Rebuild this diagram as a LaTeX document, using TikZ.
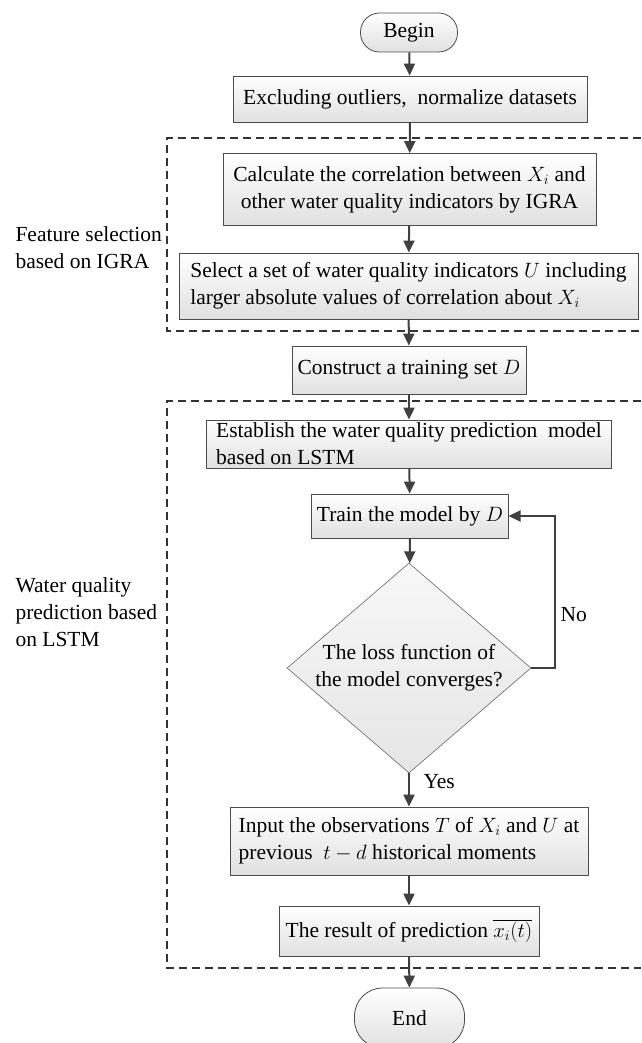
\documentclass[tikz,border=0pt]{standalone}
\usepackage{fontspec}
\setmainfont{Liberation Serif}
\usetikzlibrary{arrows.meta,shapes.geometric}

\begin{document}
\begin{tikzpicture}[x=1pt,y=-1pt,
		every node/.style={font=\fontsize{21.5}{27}\selectfont},
		box/.style={draw=black!70,line width=0.8pt,top color=white,bottom color=black!12,inner xsep=5pt,inner ysep=1pt},
		term/.style={box,rounded corners=19pt},
		flow/.style={line width=2pt,draw=black!75,-{Triangle[length=12pt,width=11pt]}},
		frame/.style={dash pattern=on 8pt off 5pt,line width=1.3pt,draw=black!80}]
				\useasboundingbox (0,0) rectangle (641,1043);
				% dashed frames
				\draw[frame] (641,138) -- (167,138) -- (167,331) -- (641,331);
				\draw[frame] (641,401) -- (167,401) -- (167,968) -- (641,968);
				\node[anchor=west,align=left] (lblfeat) at (12,248) {Feature selection\\based on IGRA};
				\node[anchor=west,align=left] (lblpred) at (12,612) {Water quality\\prediction based\\on LSTM};
				
				% steps
				\node[term,minimum width=97pt,minimum height=39pt] (begin) at (409,32.5) {Begin};
				\node[box,minimum width=354pt,minimum height=46pt] (excl) at (410,99) {Excluding outliers, \ normalize datasets};
				\node[box,minimum width=373pt,minimum height=72pt,align=center] (calc) at (409.5,189.5) {Calculate the correlation between $X_i$ and\\other water quality indicators by IGRA};
				\node[box,minimum width=459pt,minimum height=66pt,align=left] (sel) at (408.5,286) {Select a set of water quality indicators $U$ including\\larger absolute values of correlation about $X_i$};
				\node[box,minimum width=234pt,minimum height=48pt] (cons) at (409,370) {Construct a training set $D$};
				\node[box,minimum width=405pt,minimum height=48pt,align=left] (est) at (409,444) {Establish the water quality prediction \ model\\based on LSTM};
				\node[box,minimum width=196pt,minimum height=44pt] (train) at (410,516) {Train the model by $D$};
				\node[diamond,draw=black!60,line width=0.6pt,top color=black!3,bottom color=black!10,minimum width=244pt,minimum height=210pt,inner sep=-6pt,aspect=1.16,align=center] (conv) at (409,668) {The loss function of\\the model converges?};
				\node[box,minimum width=358pt,minimum height=68pt,align=left] (inp) at (409,841) {Input the observations $T$ of $X_i$ and $U$ at\\previous \ $t-d$ historical moments};
				\node[box,minimum width=260pt,minimum height=50pt] (res) at (409,931) {The result of prediction $\overline{x_i(t)}$};
				\node[term,rounded corners=28pt,minimum width=110pt,minimum height=60pt] (end) at (409.5,1018) {End};
				
				% arrows
				\draw[flow] (begin) -- (excl);
				\draw[flow] (excl) -- (calc);
				\draw[flow] (calc) -- (sel);
				\draw[flow] (sel) -- (cons);
				\draw[flow] (cons) -- (est);
				\draw[flow] (est) -- (train);
				\draw[flow] (train) -- (conv);
				\draw[flow] (conv) -- (inp);
				\draw[flow] (inp) -- (res);
				\draw[flow] (res) -- (end);
				\draw[flow] (conv.east) -- ++(24,0) |- (train.east);
				\node[anchor=west] (yes) at (420,782) {Yes};
				\node[anchor=west] (no) at (557,615) {No};
			\end{tikzpicture}
\end{document}
